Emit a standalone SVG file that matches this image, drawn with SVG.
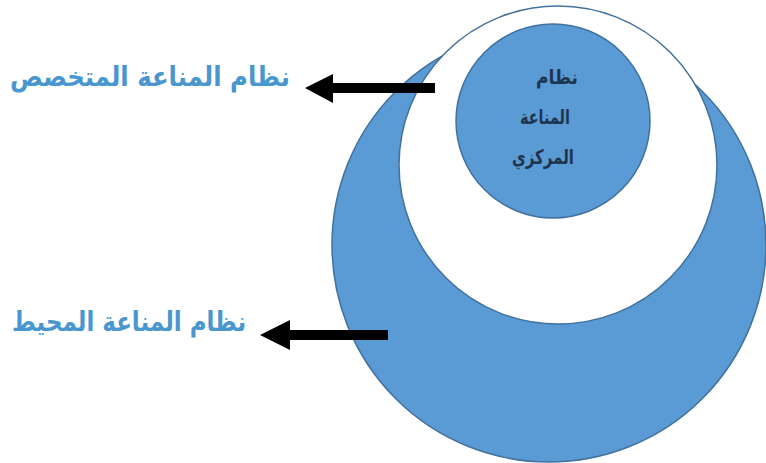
<svg xmlns="http://www.w3.org/2000/svg" width="766" height="463" viewBox="0 0 766 463">
<defs>
<style>
.shape{fill:#5B9BD5;stroke:#41719C;stroke-width:1.5}
.hole{fill:#FFFFFF;stroke:#41719C;stroke-width:1.5}
.lbl{font-family:"DejaVu Sans",sans-serif;font-size:27px;font-weight:bold;fill:#4A96CF;text-anchor:end}
.inner{font-family:"DejaVu Sans",sans-serif;font-size:20px;font-weight:bold;fill:#1E3550;text-anchor:middle}
.shaft{stroke:#000;stroke-width:10;fill:none}
.head{fill:#000}
</style>
</defs>
<rect width="766" height="463" fill="#FFFFFF"/>
<g id="peripheral">
<circle class="shape" cx="549" cy="245" r="217"/>
</g>
<g id="specialized">
<circle class="hole" cx="558" cy="165" r="159"/>
</g>
<g id="central">
<circle class="shape" cx="553" cy="121" r="97"/>
<text class="inner" x="557" y="84" textLength="42" lengthAdjust="spacingAndGlyphs">نظام</text>
<text class="inner" x="545" y="124" textLength="50" lengthAdjust="spacingAndGlyphs">المناعة</text>
<text class="inner" x="543" y="164" textLength="62" lengthAdjust="spacingAndGlyphs">المركزي</text>
</g>
<g id="label-specialized">
<text class="lbl" x="290" y="86" textLength="280" lengthAdjust="spacingAndGlyphs">نظام المناعة المتخصص</text>
</g>
<g id="label-peripheral">
<text class="lbl" x="246" y="331" textLength="234" lengthAdjust="spacingAndGlyphs">نظام المناعة المحيط</text>
</g>
<g id="connectors">
<line class="shaft" x1="435" y1="88" x2="330" y2="88"/>
<polygon class="head" points="305,88 333,74 333,103"/>
<line class="shaft" x1="388" y1="335" x2="287" y2="335"/>
<polygon class="head" points="260,335 290,320 290,350"/>
</g>
</svg>
